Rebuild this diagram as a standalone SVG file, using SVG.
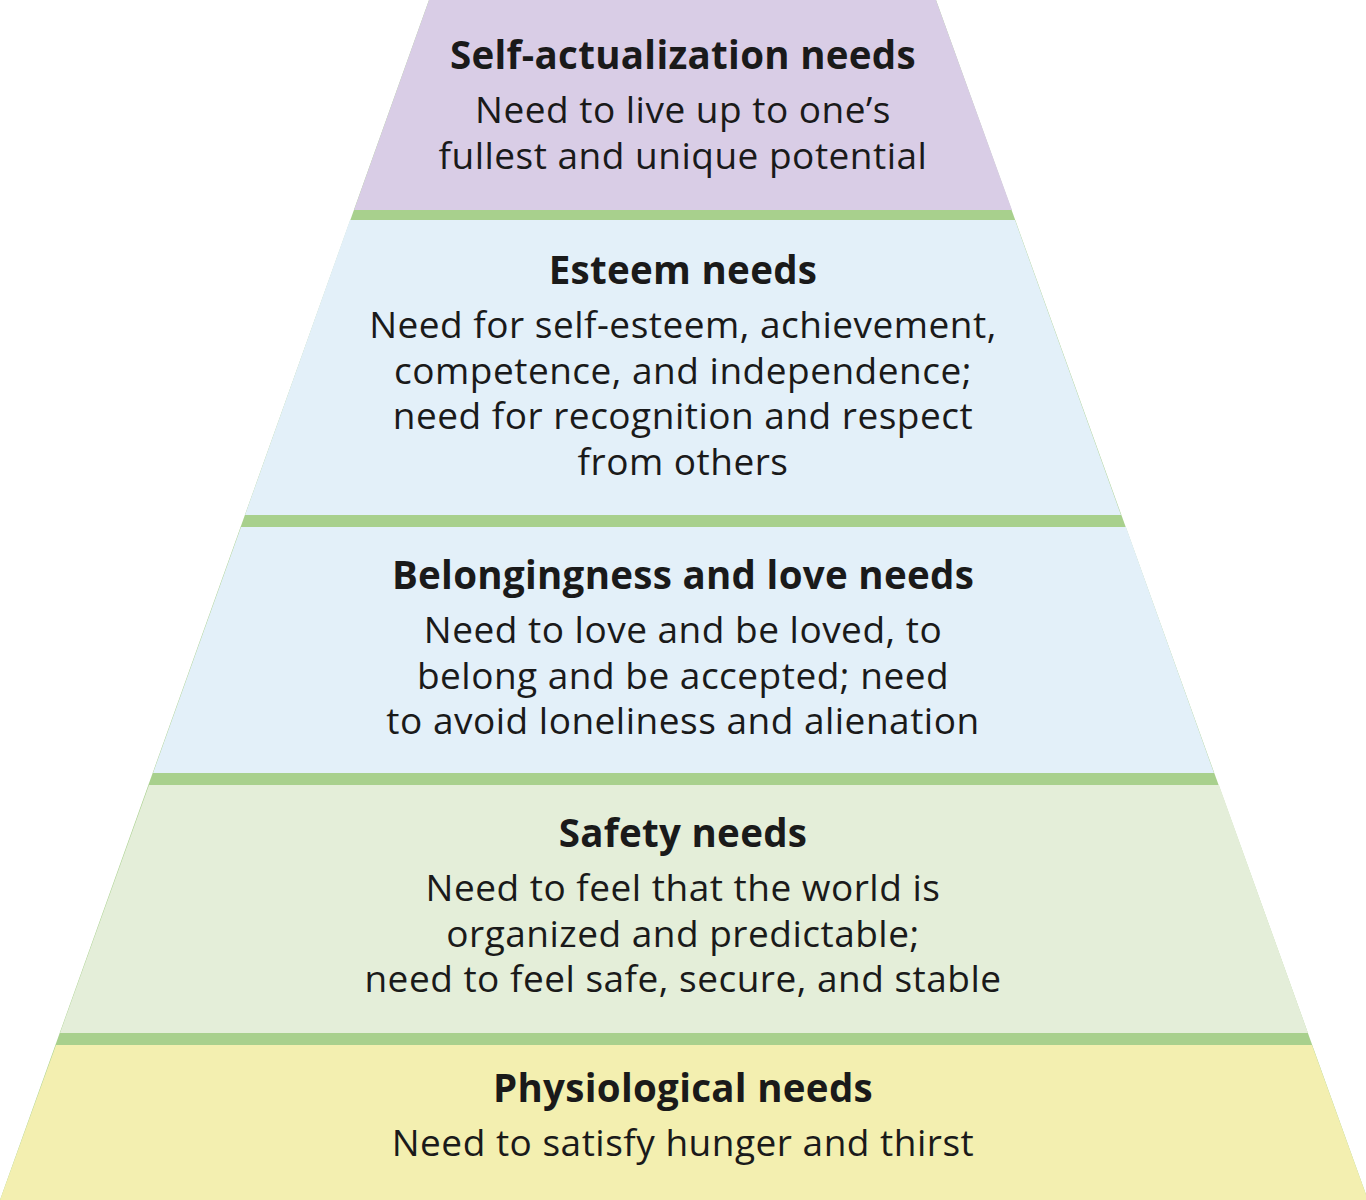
<svg xmlns="http://www.w3.org/2000/svg" width="1366" height="1200" viewBox="0 0 1366 1200">
<style>
text{font-family:"Open Sans","Noto Sans",sans-serif;fill:#1a1a1a;text-anchor:middle}
.t{font-size:38.5px;font-weight:bold;letter-spacing:0.3px}
.d{font-size:37px;letter-spacing:0.5px}
</style>
<rect width="1366" height="1200" fill="#fff"/>
<polygon points="429,0 936,0 1368,1200 0,1200" fill="#a8d08d"/>
<g id="self"><polygon points="429,0 936,0 1012,210 354,210" fill="#d9cde6"/>
<text class="t" x="683" y="69">Self-actualization needs</text>
<text class="d" x="683" y="123">Need to live up to one’s</text>
<text class="d" x="683" y="169">fullest and unique potential</text></g>
<g id="esteem"><polygon points="350,220 1015,220 1121,515 245,515" fill="#e3f0f9"/>
<text class="t" x="683" y="284">Esteem needs</text>
<text class="d" x="683" y="338">Need for self-esteem, achievement,</text>
<text class="d" x="683" y="384">competence, and independence;</text>
<text class="d" x="683" y="429">need for recognition and respect</text>
<text class="d" x="683" y="475">from others</text></g>
<g id="belong"><polygon points="241,527 1126,527 1214,773 153,773" fill="#e3f0f9"/>
<text class="t" x="683" y="589">Belongingness and love needs</text>
<text class="d" x="683" y="643">Need to love and be loved, to</text>
<text class="d" x="683" y="689">belong and be accepted; need</text>
<text class="d" x="683" y="734">to avoid loneliness and alienation</text></g>
<g id="safety"><polygon points="149,785 1219,785 1308,1033 60,1033" fill="#e4eed9"/>
<text class="t" x="683" y="847">Safety needs</text>
<text class="d" x="683" y="901">Need to feel that the world is</text>
<text class="d" x="683" y="947">organized and predictable;</text>
<text class="d" x="683" y="992">need to feel safe, secure, and stable</text></g>
<g id="phys"><polygon points="56,1045 1312,1045 1368,1200 0,1200" fill="#f3efb0"/>
<text class="t" x="683" y="1102">Physiological needs</text>
<text class="d" x="683" y="1156">Need to satisfy hunger and thirst</text></g>
<g id="connectors"/>
</svg>
